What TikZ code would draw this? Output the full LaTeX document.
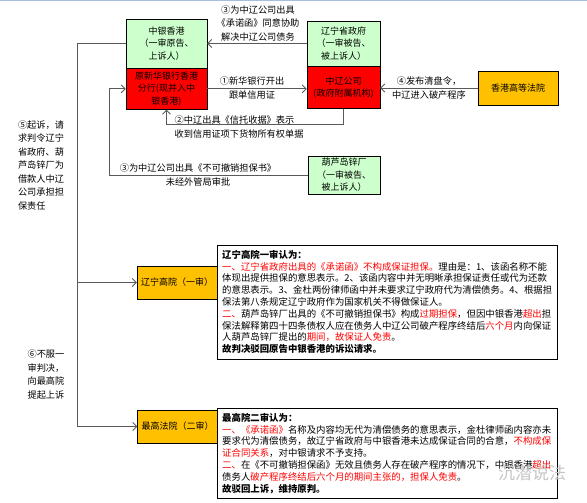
\documentclass[tikz,border=0pt]{standalone}
\usepackage{fontspec}
\setmainfont{Noto Sans CJK SC}
\usepackage{xcolor}
\usepackage{tikz}
\usetikzlibrary{arrows.meta, positioning}
\definecolor{boxgreen}{HTML}{CCFFCC}
\definecolor{boxred}{HTML}{FF0000}
\definecolor{boxgold}{HTML}{FFC000}
\definecolor{frameblue}{HTML}{A7BFDE}
\newcommand{\hl}[1]{\textcolor{red}{#1}}

\begin{document}
\begin{tikzpicture}[
    x=1pt, y=-1pt,
    every node/.style={align=center, inner sep=0.5pt, font=\fontsize{9}{12.5}\selectfont},
    party/.style={draw, fill=boxgreen, minimum width=81pt, minimum height=49pt},
    debtor/.style={draw, fill=boxred, minimum width=81pt, minimum height=41pt},
    court/.style={draw, fill=boxgold, minimum width=80pt, minimum height=34pt},
    ruling/.style={draw, fill=white, anchor=north west, text width=330pt, align=left,
        inner sep=5pt, font=\fontsize{9.4}{11.8}\selectfont},
    tag/.style={font=\fontsize{9.2}{13.5}\selectfont},
    conn/.style={draw=black!65, line width=0.9pt, -{Straight Barb[length=4pt,width=8pt]}}
]
\useasboundingbox (0,0) rectangle (587,503);
\draw[frameblue, line width=2pt] (0,0) -- (587,0);

\node[party] (zy) at (166.5,43.5) {中银香港\\（一审原告、\\上诉人）};
\node[debtor, below=0pt of zy] (xh) {原新华银行香港\\分行(现并入中\\银香港)};
\node[party, minimum width=73pt, minimum height=45pt] (lnz) at (343.5,43.5) {辽宁省政府\\（一审被告、\\被上诉人）};
\node[debtor, minimum width=73pt, minimum height=42pt, below=0pt of lnz] (zl) {中辽公司\\(政府附属机构)};
\node[court] (hk) at (518,88) {香港高等法院};
\node[party, minimum width=72pt, minimum height=38pt] (hld) at (344,175) {葫芦岛锌厂\\（一审被告、\\被上诉人）};
\node[court, minimum height=33pt] (lg) at (177,282.5) {辽宁高院（一审）};
\node[court, minimum height=33pt] (zg) at (177.5,426.5) {最高法院（二审）};

\node[ruling] (r1) at (217,245) {\textbf{辽宁高院一审认为：}\\
\hl{一、辽宁省政府出具的《承诺函》不构成保证担保。}理由是：1、该函名称不能\\
体现出提供担保的意思表示。2、该函内容中并无明晰承担保证责任或代为还款\\
的意思表示。3、金杜两份律师函中并未要求辽宁政府代为清偿债务。4、根据担\\
保法第八条规定辽宁政府作为国家机关不得做保证人。\\
\hl{二、}葫芦岛锌厂出具的《不可撤销担保书》构成\hl{过期担保}，但因中银香港\hl{超出}担\\
保法解释第四十四条债权人应在债务人中辽公司破产程序终结后\hl{六个月}内向保证\\
人葫芦岛锌厂提出的\hl{期间，故保证人免责}。\\
\textbf{故判决驳回原告中银香港的诉讼请求。}};
\node[ruling] (r2) at (217,408) {\textbf{最高院二审认为：}\\
\hl{一、《承诺函》}名称及内容均无代为清偿债务的意思表示，金杜律师函内容亦未\\
要求代为清偿债务，故辽宁省政府与中银香港未达成保证合同的合意，\hl{不构成保}\\
\hl{证合同关系}，对中银请求不予支持。\\
\hl{二、}在《不可撤销担保函》无效且债务人存在破产程序的情况下，中银香港\hl{超出}\\
债务人\hl{破产程序终结后六个月的期间主张的，担保人免责}。\\
\textbf{故驳回上诉，维持原判。}};

\node[tag] (t3a) at (258,23) {③为中辽公司出具\\《承诺函》同意协助\\解决中辽公司债务};
\node[tag] (t1) at (252,88) {①新华银行开出\\跟单信用证};
\node[tag] (t4) at (429,88) {④发布清盘令，\\中辽进入破产程序};
\node[tag, anchor=west, align=left] (t2) at (174,127) {②中辽出具《信托收据》表示\\收到信用证项下货物所有权单据};
\node[tag] (t3b) at (198,175) {③为中辽公司出具《不可撤销担保书》\\未经外管局审批};
\node[tag, align=left] (t5) at (41,165) {⑤起诉，请\\求判令辽宁\\省政府、葫\\芦岛锌厂为\\借款人中辽\\公司承担担\\保责任};
\node[tag, align=left] (t6) at (46,374.5) {⑥不服一\\审判决，\\向最高院\\提起上诉};
\node[text=gray!45, font=\fontsize{17}{17}\selectfont] (wm) at (532,473) {沉潜说法};

\coordinate (bend3) at (109,0);
\coordinate (trunk) at (77,0);
\draw[conn] (lnz.west) -- (zy.east);
\draw[conn] (xh.east) -- (xh.east -| zl.west);
\draw[conn] (hk.west) -- (hk.west -| zl.east);
\draw[conn] (zl.south) -- ++(0,16) -| (xh.south);
\draw[conn] (hld.west) -| (bend3 |- xh.west) -- (xh.west);
\draw[conn] (zy.west) -| (trunk |- zg.west) -- (zg.west);
\draw[conn] (trunk |- lg.west) -- (lg.west);

\end{tikzpicture}
\end{document}
